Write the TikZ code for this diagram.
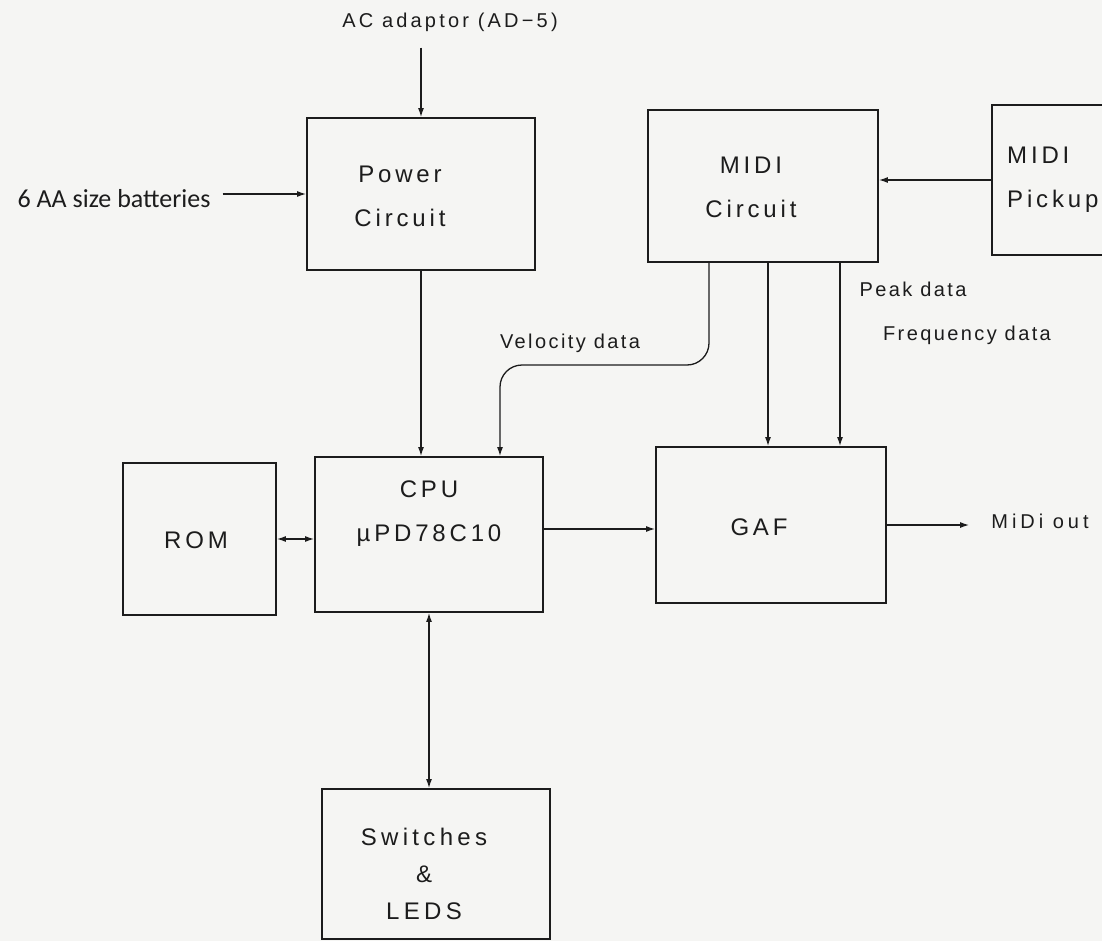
\documentclass[tikz,border=0pt]{standalone}
\usepackage{fontspec}
\setmainfont{Liberation Sans}
\newfontfamily\batfont{Carlito}
\usetikzlibrary{arrows.meta}
\definecolor{paper}{RGB}{245,245,243}
\definecolor{ink}{RGB}{28,28,28}
\tikzset{
  blockbox/.style={draw=ink, line width=1.8pt, inner sep=0pt},
  boxtext/.style={text=ink, font=\fontsize{24}{44}\selectfont\addfontfeatures{LetterSpace=16}, align=center, inner sep=0pt},
  smalltext/.style={text=ink, font=\fontsize{20}{22}\selectfont\addfontfeatures{LetterSpace=12}, inner sep=0pt},
  conn/.style={draw=ink, line width=1.3pt},
  arr/.style={conn, -{Latex[length=9pt,width=6pt]}},
  darr/.style={conn, {Latex[length=9pt,width=6pt]}-{Latex[length=9pt,width=6pt]}},
}
\begin{document}
\begin{tikzpicture}[x=1pt,y=-1pt]
\fill[paper] (0,0) rectangle (1102,941);
\clip (0,0) rectangle (1102,941);
% boxes
\node[blockbox, minimum width=228pt, minimum height=152pt] (power) at (421,194) {};
\node[blockbox, minimum width=230pt, minimum height=152pt] (midi) at (763,186) {};
\node[blockbox, minimum width=170pt, minimum height=150pt] (pickup) at (1077,180) {};
\node[blockbox, minimum width=153pt, minimum height=152pt] (rom) at (199.5,539) {};
\node[blockbox, minimum width=228pt, minimum height=155pt] (cpu) at (429,534.5) {};
\node[blockbox, minimum width=230pt, minimum height=156pt] (gaf) at (771,525) {};
\node[blockbox, minimum width=228pt, minimum height=150pt] (sw) at (436,864) {};
% box texts
\node[boxtext] (powertxt) at (400,196) {Power\\Circuit};
\node[boxtext] (miditxt) at (751,187) {MIDI\\Circuit};
\node[boxtext, anchor=west, align=left] (pickuptxt) at (1007,180) {MIDI\\Pickup};
\node[boxtext] (romtxt) at (196,540) {ROM};
\node[boxtext] (cputxt) at (429,514) {CPU\\µPD78C10};
\node[boxtext] (gaftxt) at (759,527) {GAF};
\node[boxtext, font=\fontsize{24}{37}\selectfont\addfontfeatures{LetterSpace=18}] (swtxt) at (424,874) {Switches\\\&\\LEDS};
% labels
\node[smalltext, font=\fontsize{20}{22}\selectfont\addfontfeatures{LetterSpace=16}] (acad) at (450,22) {AC adaptor (AD−5)};
\node[text=ink, font=\batfont\fontsize{26}{30}\selectfont, inner sep=0pt] (bat) at (114,199) {6 AA size batteries};
\node[smalltext] (vel) at (570,343) {Velocity data};
\node[smalltext] (peak) at (913,289) {Peak data};
\node[smalltext] (freq) at (967,335) {Frequency data};
\node[smalltext, font=\fontsize{20}{22}\selectfont\addfontfeatures{LetterSpace=20}] (mout) at (1040,521) {MiDi out};
% helper coordinates
\coordinate (v1) at (709,365);
\coordinate (v2) at (500,365);
\coordinate (pk) at (768,0);
\coordinate (fq) at (840,0);
\coordinate (cg) at (0,529);
% connectors
\draw[arr] (acad.south -| power.north) ++(0,16) -- (power.north);
\draw[arr, shorten <=12pt] (bat.east |- power.west) -- (power.west);
\draw[arr] (power.south) -- (power.south |- cpu.north);
\draw[arr] (pickup.west) -- (pickup.west -| midi.east);
\draw[arr, rounded corners=22pt] (midi.south -| v1) -- (v1) -- (v2) -- (v2 |- cpu.north);
\draw[arr] (midi.south -| pk) -- (gaf.north -| pk);
\draw[arr] (midi.south -| fq) -- (gaf.north -| fq);
\draw[darr] (rom.east) -- (rom.east -| cpu.west);
\draw[arr] (cpu.east |- cg) -- (gaf.west |- cg);
\draw[arr, shorten >=22pt] (gaf.east) -- (gaf.east -| mout.west);
\draw[darr] (cpu.south) -- (cpu.south |- sw.north);
\end{tikzpicture}
\end{document}
